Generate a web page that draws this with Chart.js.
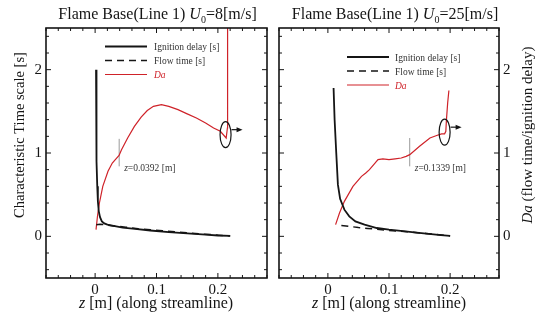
<!DOCTYPE html>
<html lang="en">
<head>
  <meta charset="UTF-8">
  <title>Flame base time scales</title>
  <style>
    html, body { margin: 0; padding: 0; background: #fff; }
    #wrap { position: relative; width: 539px; height: 321px; }
    canvas { position: absolute; top: 0; }
    #left { left: 0; }
    #right { left: 270px; }
  </style>
</head>
<body>
  <div id="wrap">
    <canvas id="left" width="270" height="321"></canvas>
    <canvas id="right" width="269" height="321"></canvas>
  </div>

  <script src="https://cdn.jsdelivr.net/npm/chart.js"></script>

  <script>
    // axes
    const xTicks = [0, 0.1, 0.2];
    const yTicks = [0, 1, 2];
    const xRange = [-0.08, 0.28];
    const yRange = [-0.5, 2.5];

    // U0 = 8 m/s
    const zIgn8 = [0.0015, 0.0018, 0.0022, 0.0028, 0.0035, 0.0045, 0.006, 0.008, 0.011, 0.015, 0.02, 0.03, 0.045, 0.065, 0.09, 0.12, 0.15, 0.18, 0.2, 0.22];
    const tIgn8 = [2.0, 1.7, 1.3, 0.9, 0.6, 0.42, 0.3, 0.23, 0.18, 0.155, 0.14, 0.125, 0.105, 0.09, 0.07, 0.05, 0.035, 0.02, 0.01, 0.005];
    const zFlow8 = [0.002, 0.008, 0.015, 0.03, 0.05, 0.07, 0.09, 0.11, 0.13, 0.15, 0.17, 0.19, 0.21, 0.22];
    const tFlow8 = [0.14, 0.145, 0.14, 0.125, 0.11, 0.09, 0.078, 0.068, 0.055, 0.042, 0.03, 0.02, 0.01, 0.005];
    const zDa8 = [0.0015, 0.004, 0.007, 0.0125, 0.021, 0.028, 0.034, 0.039, 0.043, 0.053, 0.064, 0.075, 0.085, 0.095, 0.108, 0.12, 0.135, 0.15, 0.165, 0.18, 0.193, 0.204, 0.2135, 0.2155, 0.2158];
    const da8 = [0.08, 0.25, 0.40, 0.60, 0.78, 0.88, 0.93, 0.97, 1.04, 1.18, 1.32, 1.43, 1.51, 1.56, 1.58, 1.56, 1.52, 1.47, 1.42, 1.36, 1.30, 1.26, 1.18, 1.3, 2.5];

    // U0 = 25 m/s
    const zIgn25 = [0.0093, 0.011, 0.0137, 0.0164, 0.02, 0.027, 0.035, 0.045, 0.06, 0.08, 0.1, 0.123, 0.145, 0.165, 0.185, 0.2];
    const tIgn25 = [1.78, 1.40, 1.0, 0.62, 0.45, 0.32, 0.24, 0.18, 0.14, 0.1, 0.08, 0.062, 0.045, 0.03, 0.015, 0.005];
    const zFlow25 = [0.022, 0.035, 0.05, 0.065, 0.08, 0.1, 0.13, 0.16, 0.2];
    const tFlow25 = [0.13, 0.12, 0.105, 0.095, 0.085, 0.07, 0.055, 0.035, 0.005];
    const zDa25 = [0.0126, 0.019, 0.027, 0.041, 0.055, 0.062, 0.068, 0.075, 0.082, 0.09, 0.1, 0.11, 0.12, 0.128, 0.134, 0.15, 0.167, 0.178, 0.186, 0.191, 0.193, 0.194, 0.196, 0.198];
    const da25 = [0.14, 0.28, 0.42, 0.60, 0.72, 0.76, 0.80, 0.86, 0.92, 0.93, 0.92, 0.93, 0.94, 0.96, 0.98, 1.08, 1.18, 1.21, 1.23, 1.23, 1.26, 1.4, 1.6, 1.75];

    // marked positions
    const zMark8 = [0.0392, 0.0392];
    const tMark8 = [0.84, 1.17];
    const zMark25 = [0.1339, 0.1339];
    const tMark25 = [0.84, 1.18];

    const legendLabels = ['Ignition delay [s]', 'Flow time [s]', 'Da'];
    const RED = '#cf2229';
    const INK = '#151515';
    const SERIF = '"Liberation Serif", "DejaVu Serif", serif';

    const pts = (z, t) => z.map((v, i) => ({ x: v, y: t[i] }));

    // draws text made of pieces: [text, 'i' for italic, sub, colour]
    function rich(ctx, parts, x, y, size, align) {
      const font = p => (p[1] === 'i' ? 'italic ' : '') + (p[2] ? Math.round(size * 0.62) : size) + 'px ' + SERIF;
      let w = 0;
      parts.forEach(p => { ctx.font = font(p); w += ctx.measureText(p[0]).width; });
      let cx = align === 'left' ? x : x - w / 2;
      ctx.textAlign = 'left';
      ctx.textBaseline = 'alphabetic';
      parts.forEach(p => {
        ctx.font = font(p);
        ctx.fillStyle = p[3] || INK;
        ctx.fillText(p[0], cx, y + (p[2] ? size * 0.22 : 0));
        cx += ctx.measureText(p[0]).width;
      });
    }

    const decor = {
      id: 'decor',
      afterDatasetsDraw(chart, args, o) {
        const { ctx, chartArea: a, scales: { x, y } } = chart;
        ctx.save();

        // frame + inward ticks on every side
        ctx.strokeStyle = INK;
        ctx.lineWidth = 1;
        for (let i = -4; i <= 14; i++) {
          const px = x.getPixelForValue(i * 0.02);
          const len = i % 5 === 0 ? 5 : 3;
          ctx.beginPath();
          ctx.moveTo(px, a.bottom); ctx.lineTo(px, a.bottom - len);
          ctx.moveTo(px, a.top); ctx.lineTo(px, a.top + len);
          ctx.stroke();
        }
        for (let i = -2; i <= 12; i++) {
          const py = y.getPixelForValue(i * 0.2);
          const len = i % 5 === 0 ? 5 : 3;
          ctx.beginPath();
          ctx.moveTo(a.left, py); ctx.lineTo(a.left + len, py);
          ctx.moveTo(a.right, py); ctx.lineTo(a.right - len, py);
          ctx.stroke();
        }
        ctx.lineWidth = 1.6;
        ctx.strokeRect(a.left, a.top, a.right - a.left, a.bottom - a.top);

        // legend inside the plot
        chart.data.datasets.slice(0, 3).forEach((ds, i) => {
          const ly = a.top + o.legend.top + i * 14;
          ctx.beginPath();
          ctx.strokeStyle = ds.borderColor;
          ctx.lineWidth = ds.borderWidth;
          ctx.setLineDash(ds.borderDash || []);
          ctx.moveTo(a.left + o.legend.x0, ly);
          ctx.lineTo(a.left + o.legend.x1, ly);
          ctx.stroke();
          ctx.setLineDash([]);
          const it = i === 2 ? 'i' : '';
          rich(ctx, [[ds.label, it, false, i === 2 ? RED : '#333']], a.left + o.legend.text, ly + 3.5, 9.5, 'left');
        });

        // note next to the marked position
        const mx = x.getPixelForValue(o.mark.z);
        const my = y.getPixelForValue(o.mark.y);
        rich(ctx, [['z', 'i', false, '#333'], ['=' + o.mark.z + ' [m]', '', false, '#333']], mx + 5, my + 4.5, 9.5, 'left');

        // ellipse round the end of Da and arrow to the Da axis
        const ex = x.getPixelForValue(o.ring.z);
        const ey = y.getPixelForValue(o.ring.y);
        ctx.strokeStyle = INK;
        ctx.lineWidth = 1.2;
        ctx.beginPath();
        ctx.ellipse(ex, ey, 5.5, 13, 0, 0, Math.PI * 2);
        ctx.stroke();
        const ay = ey - 5;
        ctx.beginPath();
        ctx.moveTo(ex + 6, ay); ctx.lineTo(ex + 12, ay);
        ctx.stroke();
        ctx.fillStyle = INK;
        ctx.beginPath();
        ctx.moveTo(ex + 17, ay); ctx.lineTo(ex + 11, ay - 2.5); ctx.lineTo(ex + 11, ay + 2.5);
        ctx.closePath();
        ctx.fill();

        // titles
        rich(ctx, o.title, o.titleX, 19, 16, 'center');
        rich(ctx, [['z', 'i'], [' [m] (along streamline)', '']], o.xTitleX, 308, 16, 'center');
        ctx.save();
        ctx.translate(o.yTitle.x, 135);
        ctx.rotate(-Math.PI / 2);
        rich(ctx, o.yTitle.parts, 0, 0, o.yTitle.size, 'center');
        ctx.restore();

        ctx.restore();
      }
    };

    function series(zI, tI, zF, tF, zD, dD, zM, tM) {
      return [
        { label: legendLabels[0], data: pts(zI, tI), borderColor: INK, borderWidth: 1.8 },
        { label: legendLabels[1], data: pts(zF, tF), borderColor: INK, borderWidth: 1.5, borderDash: [7, 5] },
        { label: legendLabels[2], data: pts(zD, dD), borderColor: RED, borderWidth: 1.2 },
        { label: 'mark', data: pts(zM, tM), borderColor: '#9a9a9a', borderWidth: 1 }
      ].map(d => Object.assign(d, { showLine: true, pointRadius: 0, clip: 0 }));
    }

    function makePanel(id, datasets, side, pad, decorOpts) {
      const tickFont = { family: SERIF, size: 15 };
      return new Chart(document.getElementById(id), {
        type: 'scatter',
        data: { datasets: datasets },
        options: {
          responsive: false,
          animation: false,
          layout: { padding: pad },
          plugins: {
            legend: { display: false },
            tooltip: { enabled: false },
            decor: decorOpts
          },
          scales: {
            x: {
              type: 'linear', min: xRange[0], max: xRange[1],
              afterBuildTicks: s => { s.ticks = xTicks.map(v => ({ value: v })); },
              afterFit: s => { s.height = 43; },
              grid: { display: false, drawTicks: false }, border: { display: false },
              ticks: { font: tickFont, color: INK, padding: 3, maxRotation: 0, callback: v => String(v) }
            },
            y: {
              type: 'linear', position: side, min: yRange[0], max: yRange[1],
              afterBuildTicks: s => { s.ticks = yTicks.map(v => ({ value: v })); },
              afterFit: s => { s.width = side === 'left' ? 46 : 40; },
              grid: { display: false, drawTicks: false }, border: { display: false },
              ticks: { font: tickFont, color: INK, padding: 4, callback: v => String(v) }
            }
          }
        },
        plugins: [decor]
      });
    }

    makePanel('left', series(zIgn8, tIgn8, zFlow8, tFlow8, zDa8, da8, zMark8, tMark8), 'left',
      { top: 28, right: 3, left: 0, bottom: 0 }, {
        legend: { top: 18.5, x0: 59, x1: 101, text: 108 },
        mark: { z: zMark8[0], y: tMark8[0] },
        ring: { z: 0.2125, y: 1.22 },
        title: [['Flame Base(Line 1) ', ''], ['U', 'i'], ['0', '', true], ['=8[m/s]', '']],
        titleX: 157.5,
        xTitleX: 156,
        yTitle: { x: 24, size: 14.5, parts: [['Characteristic Time scale [s]', '']] }
      });

    makePanel('right', series(zIgn25, tIgn25, zFlow25, tFlow25, zDa25, da25, zMark25, tMark25), 'right',
      { top: 28, right: 0, left: 9, bottom: 0 }, {
        legend: { top: 29, x0: 68, x1: 110, text: 116 },
        mark: { z: zMark25[0], y: tMark25[0] },
        ring: { z: 0.191, y: 1.25 },
        title: [['Flame Base(Line 1) ', ''], ['U', 'i'], ['0', '', true], ['=25[m/s]', '']],
        titleX: 125,
        xTitleX: 119,
        yTitle: { x: 262, size: 15, parts: [['Da', 'i'], [' (flow time/ignition delay)', '']] }
      });
  </script>
</body>
</html>
